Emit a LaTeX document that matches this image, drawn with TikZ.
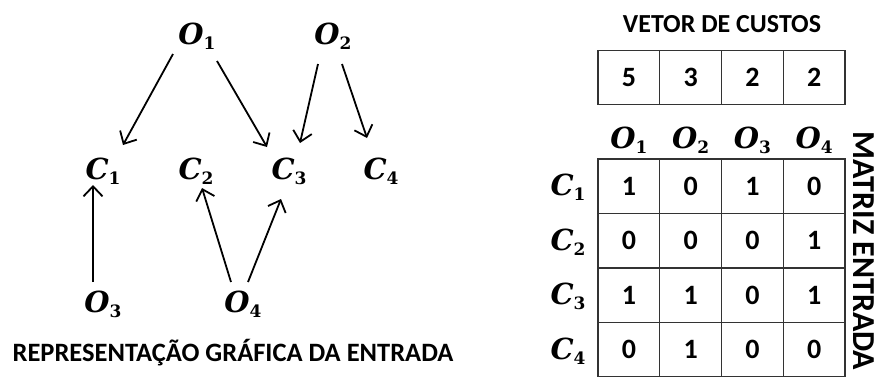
\documentclass[tikz,border=0pt]{standalone}
\usepackage{fontspec}
\setmainfont{Carlito}
\newfontfamily\mathletters{DejaVu Serif}
\usetikzlibrary{arrows.meta,calc}
\newcommand{\mv}[2]{{\mathletters\fontsize{29}{32}\selectfont\bfseries\itshape #1}\raisebox{-5pt}{\mathletters\fontsize{17}{19}\selectfont\bfseries #2}}
\newcommand{\cellnum}[1]{{\fontsize{28}{30}\selectfont\bfseries #1}}
\tikzset{
  lab/.style={inner sep=0pt, anchor=center},
  arr/.style={line width=1.8pt, -{Straight Barb[length=10pt,width=19pt,line width=1.8pt]}},
  cell/.style={draw=black!80, line width=1.3pt, minimum width=61.75pt, minimum height=54.5pt, inner sep=0pt},
  ttl/.style={font=\fontsize{26.5}{30}\selectfont\bfseries, inner sep=0pt}
}
\begin{document}
\begin{tikzpicture}[x=1pt,y=-1pt]
\useasboundingbox (0,0) rectangle (877,376);
% graph
\node[lab] (O1) at (197,36) {\mv{O}{1}};
\node[lab] (O2) at (333,36) {\mv{O}{2}};
\node[lab] (C1) at (103,171) {\mv{C}{1}};
\node[lab] (C2) at (196,171) {\mv{C}{2}};
\node[lab] (C3) at (289,171) {\mv{C}{3}};
\node[lab] (C4) at (381,171) {\mv{C}{4}};
\node[lab] (O3) at (103,304) {\mv{O}{3}};
\node[lab] (O4) at (243,304) {\mv{O}{4}};
\draw[arr] ($(O1)+(-24,18)$) -- ($(C1)+(20,-26)$);
\draw[arr] ($(O1)+(20,25)$) -- ($(C3)+(-22,-24)$);
\draw[arr] ($(O2)+(-15,28)$) -- ($(C3)+(11,-28)$);
\draw[arr] ($(O2)+(9,28)$) -- ($(C4)+(-14,-33)$);
\draw[arr] ($(O3)+(-10,-22)$) -- ($(C1)+(-10,14)$);
\draw[arr] ($(O4)+(-12,-22)$) -- ($(C2)+(6,17)$);
\draw[arr] ($(O4)+(5,-22)$) -- ($(C3)+(-8,28)$);
\node[ttl] (t1) at (233,353) {REPRESENTAÇÃO GRÁFICA DA ENTRADA};
% cost vector
\node[ttl, font=\fontsize{26}{30}\selectfont\bfseries] (t2) at (722,24) {VETOR DE CUSTOS};
\foreach \v [count=\i] in {5,3,2,2}{
  \node[cell] (v\i) at ({598+61.75*(\i-0.5)},77.5) {\cellnum{\v}};
}
\foreach \i in {1,...,4}{
  \node[lab] (h\i) at ({598+61.75*(\i-0.5)},140) {\mv{O}{\i}};
  \node[lab] (r\i) at (568,{159+54.5*(\i-0.5)+1}) {\mv{C}{\i}};
}
\foreach \row [count=\r] in {{1,0,1,0},{0,0,0,1},{1,1,0,1},{0,1,0,0}}{
  \foreach \v [count=\c] in \row {
    \node[cell] (m\r\c) at ({598+61.75*(\c-0.5)},{159+54.5*(\r-0.5)}) {\cellnum{\v}};
  }
}
\node[ttl, rotate=-90, font=\fontsize{32}{36}\selectfont\bfseries] (t3) at (864,251) {MATRIZ ENTRADA};
\end{tikzpicture}
\end{document}
